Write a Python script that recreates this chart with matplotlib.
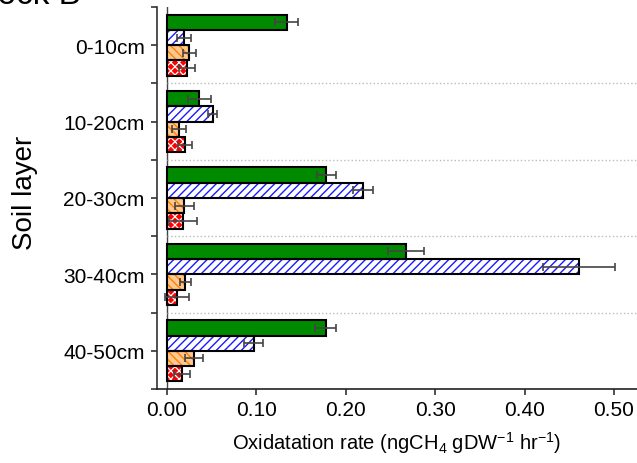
import matplotlib
matplotlib.use("Agg")
import matplotlib.pyplot as plt
import numpy as np

plt.rcParams['font.family'] = ['Liberation Sans', 'DejaVu Sans']
plt.rcParams['mathtext.fontset'] = 'custom'
plt.rcParams['mathtext.rm'] = 'Liberation Sans'
plt.rcParams['mathtext.it'] = 'Liberation Sans:italic'
plt.rcParams['mathtext.bf'] = 'Liberation Sans:bold'
plt.rcParams['hatch.linewidth'] = 1.0

layers = ['0-10cm', '10-20cm', '20-30cm', '30-40cm', '40-50cm']
green_vals = [0.134, 0.036, 0.178, 0.267, 0.1775]
green_err = [0.013, 0.013, 0.0106, 0.020, 0.0116]
blue_vals = [0.019, 0.051, 0.219, 0.461, 0.097]
blue_err = [0.0073, 0.0054, 0.0115, 0.040, 0.0106]
orange_vals = [0.025, 0.0134, 0.0194, 0.0205, 0.030]
orange_err = [0.0074, 0.0075, 0.0106, 0.0058, 0.0099]
red_vals = [0.022, 0.020, 0.018, 0.0112, 0.0168]
red_err = [0.009, 0.0078, 0.016, 0.013, 0.0086]
xticks = [0.0, 0.1, 0.2, 0.3, 0.4, 0.5]

fig = plt.figure(figsize=(6.37, 4.64), dpi=100)
ax = fig.add_axes([157/637, 1-390/464, 480/637, 382/464])

y = np.arange(len(layers))
h = 0.2
series = [
    (green_vals, green_err, -0.3, dict(face='#008a00', hatch=None, hcol=None)),
    (blue_vals, blue_err, -0.1, dict(face='white', hatch='////', hcol='#1a1aff')),
    (orange_vals, orange_err, 0.1, dict(face='#ffc890', hatch='\\\\\\\\', hcol='#ff8000')),
    (red_vals, red_err, 0.3, dict(face='#ff0000', hatch='xxxx', hcol='white')),
]
for vals, errs, off, st in series:
    pos = y + off
    if st['hatch']:
        bars = ax.barh(pos, vals, height=h, color=st['face'], hatch=st['hatch'],
                       edgecolor=st['hcol'], linewidth=0, zorder=2)
        if st['hcol'] == 'white':
            for b in bars:
                try:
                    b.set_hatch_linewidth(0.9)
                except Exception:
                    pass
        ax.barh(pos, vals, height=h, fill=False, edgecolor='black',
                linewidth=1.5, zorder=3)
    else:
        ax.barh(pos, vals, height=h, color=st['face'], edgecolor='black',
                linewidth=1.5, zorder=3)
    ax.errorbar(vals, pos, xerr=errs, fmt='none', ecolor='#444444',
                elinewidth=1.2, capsize=3, capthick=1.2, zorder=4)

ax.axvline(0, color='#444444', lw=1.0, zorder=1)
ax.hlines([0.5, 1.5, 2.5, 3.5], 0, 0.6, colors='#bbbbbb', linestyles=':',
          lw=1.0, zorder=1)

ax.set_ylim(4.5, -0.5)
ax.set_xlim(-0.0112, 0.5257)
ax.set_yticks(y)
ax.set_yticklabels(layers, fontsize=15)
ax.set_yticks(np.arange(-0.5, 5.0, 1.0), minor=True)
ax.set_xticks(xticks)
ax.set_xticklabels([f'{v:.2f}' for v in xticks], fontsize=15)
ax.tick_params(axis='y', which='both', direction='out', length=4, width=1.2,
               color='#333333', pad=5)
ax.tick_params(axis='x', direction='out', length=4, width=1.2, color='#333333',
               pad=4)

for s in ['top', 'right']:
    ax.spines[s].set_visible(False)
ax.spines['left'].set_color('#333333')
ax.spines['left'].set_linewidth(1.2)
ax.spines['bottom'].set_color('#222222')
ax.spines['bottom'].set_linewidth(1.2)

ax.set_xlabel('Oxidatation rate (ngCH$_4$ gDW$^{-1}$ hr$^{-1}$)', fontsize=14.5,
              labelpad=7)
fig.text(25/637, 1-193/464, 'Soil layer', fontsize=20, rotation=90,
         ha='center', va='center')

fig.text(-0.05, 1-4/464, 'Block B', fontsize=24, va='baseline', ha='left')

fig.savefig('out.png', dpi=100)
